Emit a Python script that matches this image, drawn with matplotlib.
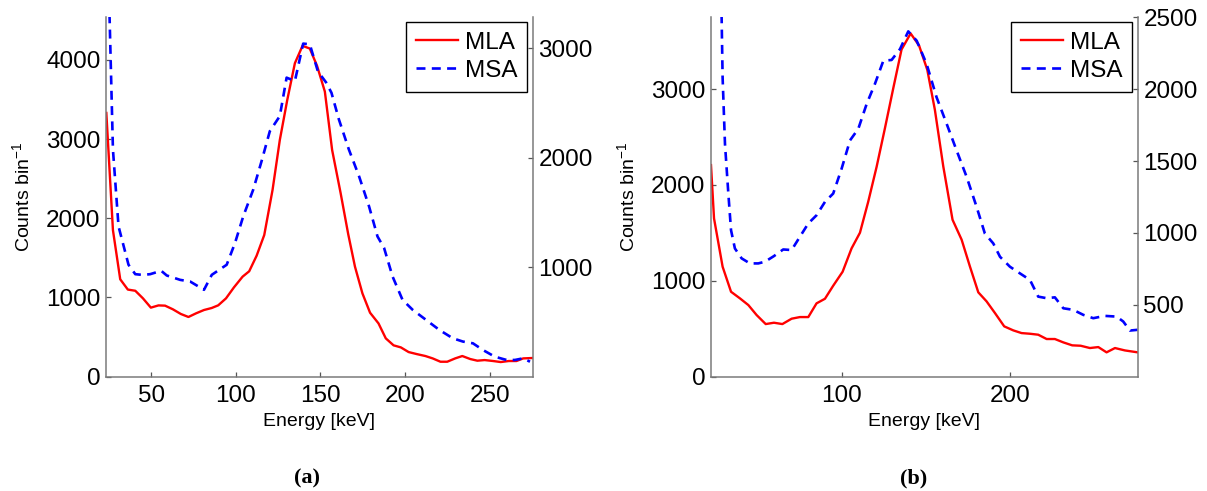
import matplotlib
matplotlib.use("Agg")
import matplotlib.pyplot as plt

plt.rcParams['font.family'] = ['Liberation Sans', 'DejaVu Sans']
plt.rcParams['mathtext.fontset'] = 'custom'
plt.rcParams['mathtext.rm'] = 'Liberation Sans'
plt.rcParams['mathtext.it'] = 'Liberation Sans:italic'

# ---------------- Data: panel (a) ----------------
ea_mla = [23.5, 27.4, 31.7, 36.2, 40.6, 45.1, 49.8, 54.3, 58.2, 62.8, 67.5, 72.0, 76.5,
          81.2, 85.7, 89.6, 94.2, 98.9, 104.0, 107.9, 112.3, 116.8, 121.7, 126.0, 130.4,
          134.9, 139.4, 143.7, 148.0, 152.6, 156.9, 161.9, 166.4, 170.4, 174.8, 179.3,
          184.3, 188.6, 193.2, 197.5, 202.1, 206.8, 212.0, 216.3, 220.9, 224.9, 229.6,
          233.8, 238.5, 242.7, 247.0, 252.0, 256.5, 261.3, 265.8, 269.8, 275.3]
mla_a = [3330, 1850, 1230, 1100, 1085, 990, 872, 900, 897, 851, 792, 754, 800,
         842, 867, 901, 989, 1128, 1263, 1331, 1528, 1789, 2358, 2989, 3495,
         3958, 4177, 4143, 3924, 3600, 2862, 2320, 1800, 1389, 1052, 808,
         673, 484, 396, 370, 311, 286, 261, 231, 189, 189, 231,
         261, 223, 202, 210, 198, 185, 198, 198, 231, 236]

ea_msa = [23.5, 27.4, 30.7, 36.6, 40.6, 45.0, 49.4, 55.9, 59.2, 67.1, 73.0, 81.2, 85.8,
          94.6, 99.5, 104.4, 110.3, 115.2, 120.1, 126.0, 130.0, 134.9, 139.8, 143.7,
          148.5, 153.3, 156.5, 160.9, 166.8, 172.8, 178.7, 183.7, 187.6, 192.6, 198.5,
          204.5, 212.4, 220.3, 228.2, 234.2, 240.1, 246.0, 253.0, 259.9, 264.9, 269.8,
          273.8]
msa_a = [4450, 2076, 1374, 1023, 937, 930, 937, 968, 925, 885, 870, 794, 931,
         1023, 1221, 1466, 1710, 1969, 2244, 2382, 2733, 2702, 3044, 3038,
         2790, 2690, 2595, 2351, 2076, 1832, 1557, 1282, 1176, 916, 702,
         611, 519, 427, 351, 321, 305, 244, 183, 153, 153, 168,
         137]

# ---------------- Data: panel (b) ----------------
eb_mla = [22.4, 24.2, 29.3, 34.3, 39.6, 44.6, 49.5, 54.9, 59.8, 64.8, 70.3, 75.2, 80.2,
          85.1, 90.1, 95.0, 100.6, 105.9, 110.9, 115.8, 120.8, 125.7, 130.7, 135.6,
          141.0, 146.0, 150.9, 155.4, 160.4, 165.9, 171.3, 176.2, 181.2, 186.1, 191.1,
          196.6, 202.0, 206.9, 211.9, 216.8, 221.8, 226.7, 231.7, 237.0, 242.0, 247.5,
          252.5, 257.4, 262.4, 268.3, 275.9]
mla_b = [2207, 1651, 1147, 886, 817, 747, 643, 549, 563, 549, 605, 622, 622,
         765, 813, 949, 1095, 1338, 1502, 1825, 2190, 2589, 3010, 3413,
         3580, 3455, 3201, 2784, 2193, 1637, 1429, 1151, 880, 786, 664,
         525, 483, 455, 448, 438, 393, 393, 358, 327, 323, 299,
         309, 254, 299, 274, 254]

eb_msa = [24.5, 29.3, 30.7, 32.7, 34.3, 36.6, 40.6, 45.5, 50.5, 54.5, 59.8, 65.3, 70.3,
          75.2, 80.2, 85.1, 90.1, 95.0, 100.0, 105.0, 109.9, 114.9, 119.8, 124.8,
          129.7, 134.7, 139.6, 144.6, 150.5, 156.4, 162.4, 168.3, 174.3, 180.2, 185.1,
          190.1, 194.1, 200.0, 205.9, 211.9, 216.8, 221.8, 226.7, 231.7, 237.6, 243.6,
          249.5, 256.4, 263.4, 267.3, 271.3, 275.8]
msa_b = [5500, 2080, 1620, 1274, 1019, 892, 823, 788, 788, 800, 839, 885, 881,
         973, 1066, 1123, 1216, 1274, 1447, 1644, 1724, 1898, 2037, 2198,
         2203, 2279, 2402, 2337, 2175, 1944, 1759, 1574, 1389, 1181, 996,
         927, 834, 765, 719, 673, 557, 546, 552, 476, 465, 430,
         407, 423, 418, 384, 321, 326]

xticks_a = [50, 100, 150, 200, 250]
xticks_b = [100, 200]
lticks_a = [0, 1000, 2000, 3000, 4000]
rticks_a = [1000, 2000, 3000]
lticks_b = [0, 1000, 2000, 3000]
rticks_b = [500, 1000, 1500, 2000, 2500]

# ---------------- Figure ----------------
W, H = 1207, 491
fig = plt.figure(figsize=(W / 100, H / 100), dpi=100)

SPINE = '#7a7a7a'
TICKC = '#555555'
TFS = 17.5


def panel(left_px, xlim, ylim_l, ylim_r, xt, ylt, yrt, ex_l, yl, ex_r, yr, cap, cap_x):
    ax = fig.add_axes([left_px / W, (H - 376.7) / H, 426.7 / W, 360 / H])
    ax2 = ax.twinx()
    l1, = ax.plot(ex_l, yl, color='#ff0000', lw=1.7, label='MLA')
    l2, = ax2.plot(ex_r, yr, color='#0000ff', lw=1.9, dashes=(3.4, 2.4), label='MSA')
    ax.set_xlim(*xlim)
    ax.set_ylim(*ylim_l)
    ax2.set_ylim(*ylim_r)
    ax.set_xticks(xt)
    ax.set_yticks(ylt)
    ax2.set_yticks(yrt)
    for a in (ax, ax2):
        for s in a.spines.values():
            s.set_color(SPINE)
            s.set_linewidth(1.1)
        a.spines['top'].set_visible(False)
    ax.spines['right'].set_visible(False)
    ax2.spines['left'].set_visible(False)
    ax2.spines['bottom'].set_visible(False)
    ax.tick_params(axis='both', direction='in', length=3.5, width=0.9, color=TICKC,
                   labelsize=TFS, labelcolor='black')
    ax.tick_params(axis='x', pad=6)
    ax.tick_params(axis='y', pad=4)
    ax2.tick_params(axis='y', direction='in', length=3.5, width=0.9, color=TICKC,
                    labelsize=TFS, labelcolor='black', pad=4)
    ax.set_xlabel('Energy [keV]', fontsize=14, labelpad=4)
    ax.set_ylabel('Counts bin$^{-1}$', fontsize=14)
    ax.yaxis.set_label_coords(-0.172, 0.5)
    ax2.legend([l1, l2], ['MLA', 'MSA'], loc='upper right',
               bbox_to_anchor=(0.986, 0.985), borderaxespad=0, fontsize=17.5,
               frameon=True, fancybox=False, framealpha=1, edgecolor='black',
               handlelength=1.75, handletextpad=0.25, borderpad=0.4,
               labelspacing=0.25)
    ax2.get_legend().get_frame().set_linewidth(1.0)
    fig.text(cap_x / W, 1 - 478 / H, cap, ha='center', va='center',
             fontsize=16, fontweight='bold', family='Liberation Serif')


panel(106, (23.3, 275.4), (0, 4545), (0, 3290), xticks_a, lticks_a, rticks_a,
      ea_mla, mla_a, ea_msa, msa_a, '(a)', 306.7)
panel(711, (22.4, 275.9), (0, 3755), (0, 2504), xticks_b, lticks_b, rticks_b,
      eb_mla, mla_b, eb_msa, msa_b, '(b)', 914)

fig.savefig('out.png', dpi=100)
